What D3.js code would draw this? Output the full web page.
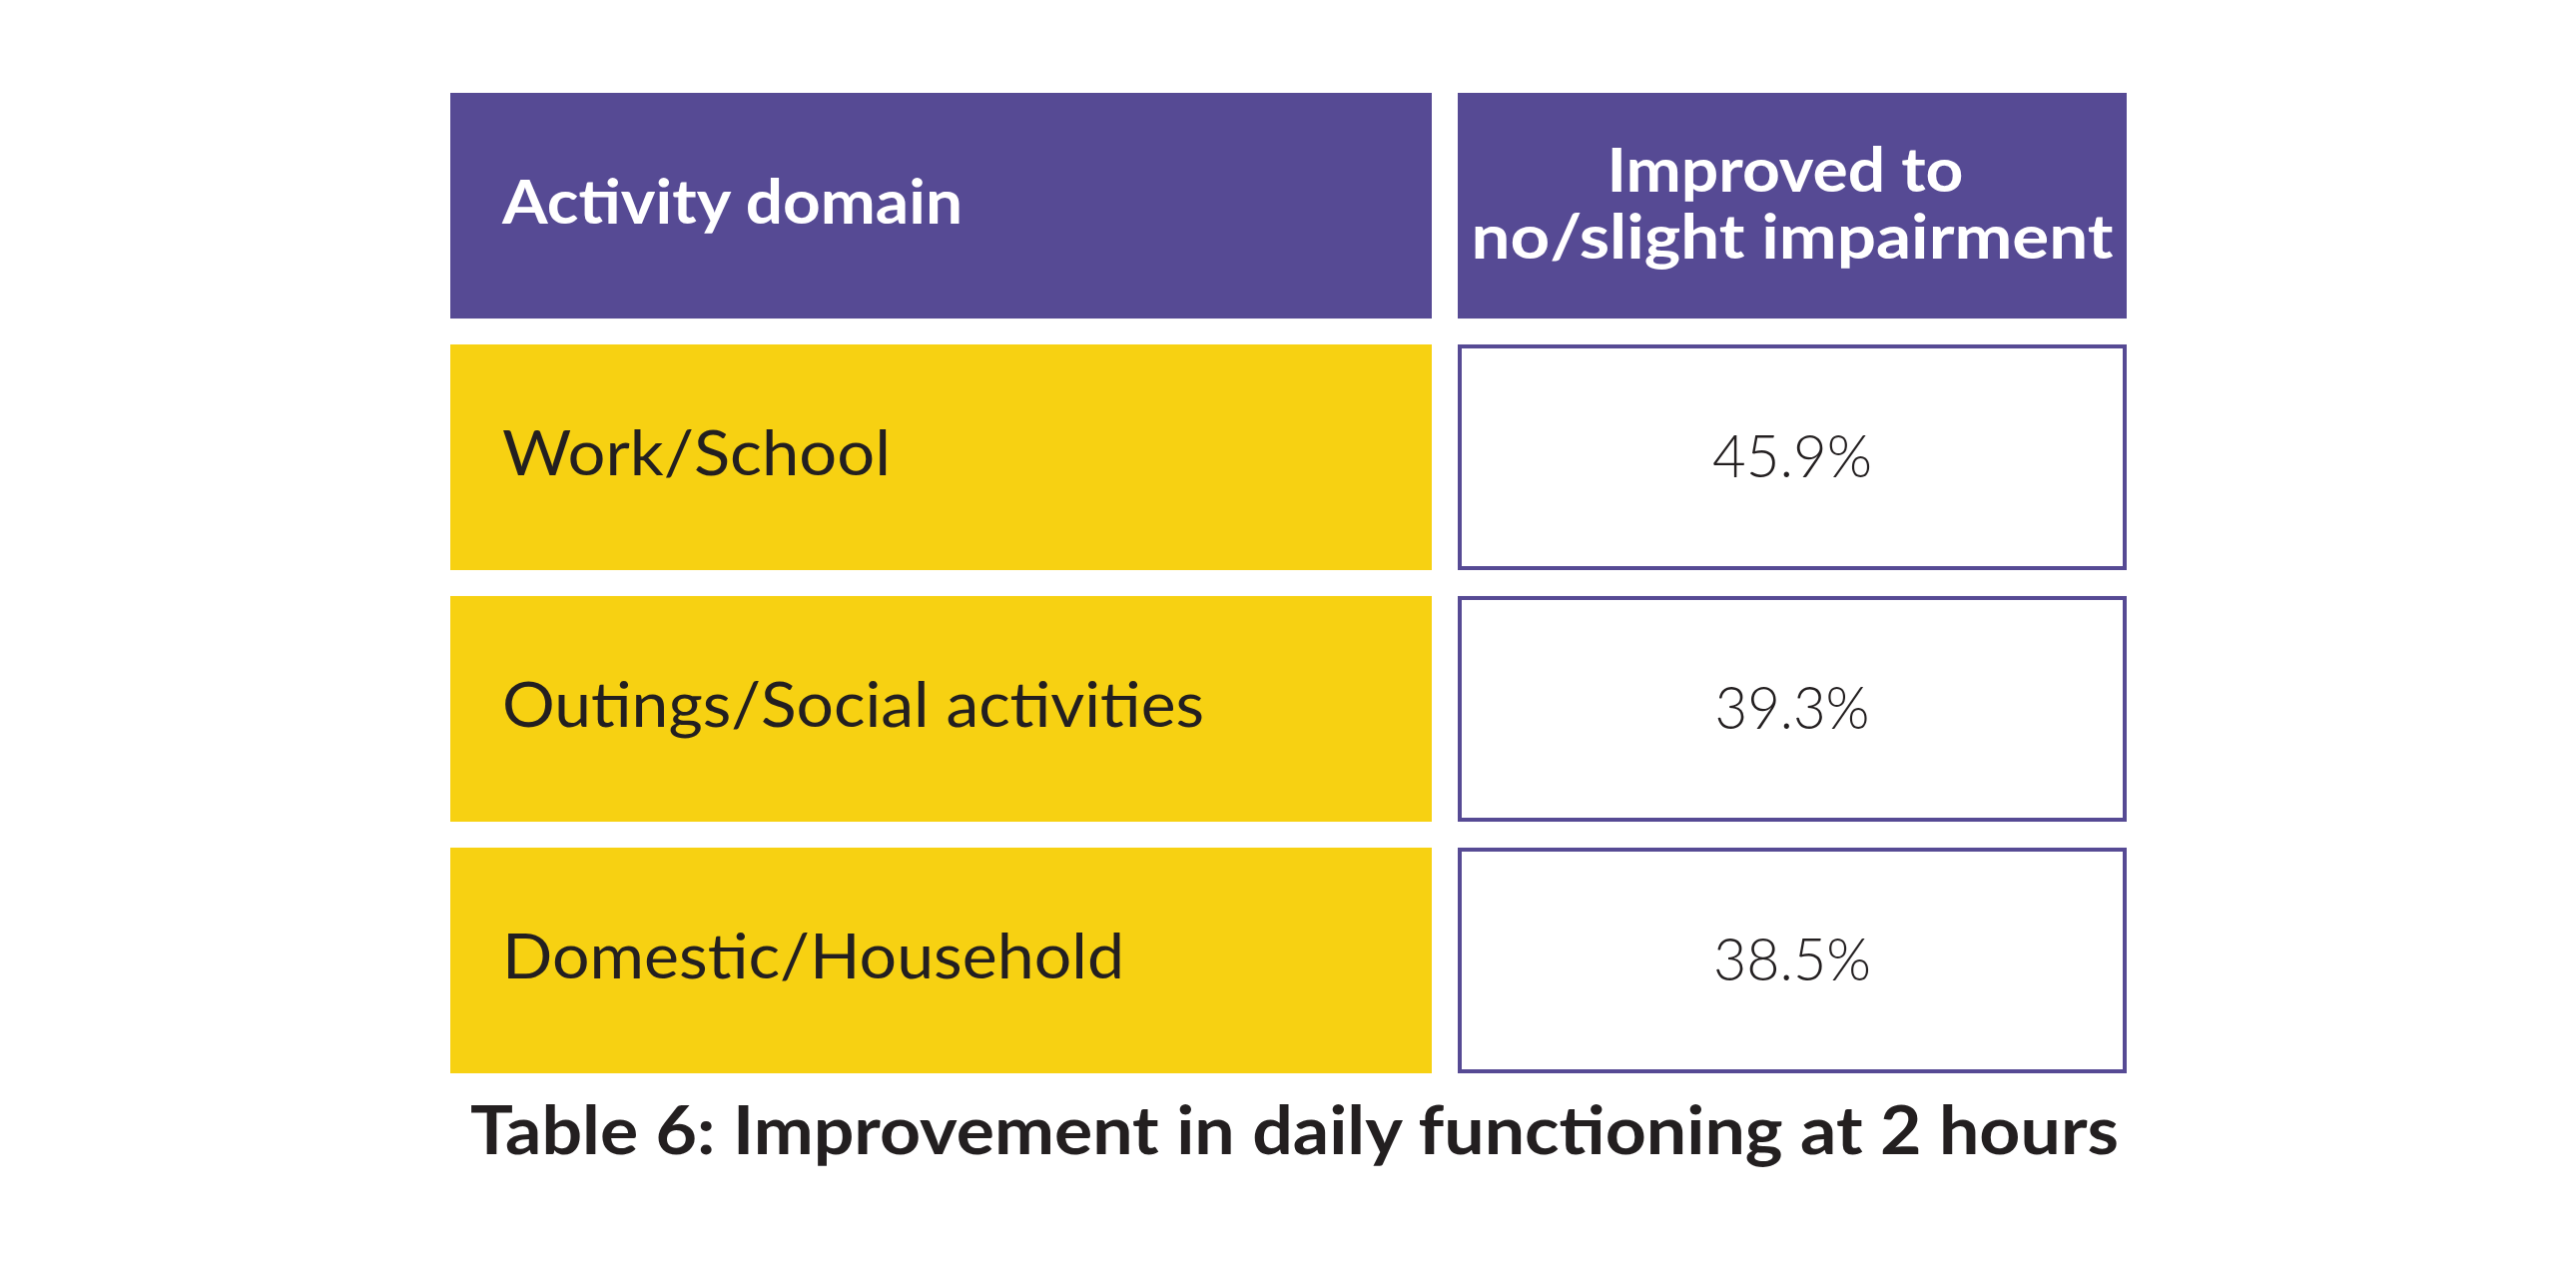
<!DOCTYPE html>
<html>
<head>
<meta charset="utf-8">
<script src="https://cdn.jsdelivr.net/npm/d3@7"></script>
<style>
  html, body { margin: 0; padding: 0; background: #fff; }
  text { font-variant-ligatures: none; font-feature-settings: "liga" 0, "dlig" 0; }
</style>
</head>
<body>
<div id="vis"></div>
<script>

var width = 2580,
    height = 1264;

// table content
var headers = ["Activity domain", ["Improved to", "no/slight impairment"]];
var domains = ["Work/School", "Outings/Social activities", "Domestic/Household"];
var improved = [45.9, 39.3, 38.5];
var caption = "Table 6: Improvement in daily functioning at 2 hours";

var purple = "#564a94",
    yellow = "#f7d112",
    ink = "#231f20";

var svg = d3.select("#vis").append("svg")
    .attr("width", width)
    .attr("height", height)
    .style("display", "block")
    .style("background", "#fff");

// rows: header + one per domain
var y = d3.scaleBand()
    .domain(["header"].concat(domains))
    .range([93, 1075])
    .paddingInner(0.103)
    .paddingOuter(0);

var colLeft = [451, 1434],
    colRight = [1460, 2130];

// header cells
svg.append("rect")
    .attr("x", colLeft[0])
    .attr("y", y("header"))
    .attr("width", colLeft[1] - colLeft[0])
    .attr("height", y.bandwidth())
    .attr("fill", purple);

svg.append("rect")
    .attr("x", colRight[0])
    .attr("y", y("header"))
    .attr("width", colRight[1] - colRight[0])
    .attr("height", y.bandwidth())
    .attr("fill", purple);

svg.append("text")
    .attr("x", 503)
    .attr("y", y("header") + 131)
    .attr("textLength", 461)
    .attr("lengthAdjust", "spacingAndGlyphs")
    .style("font", "700 62px Lato, sans-serif")
    .attr("fill", "#fff")
    .text(headers[0]);

var headLines = [{t: headers[1][0], y: 99, w: 357, x: 1788},
                 {t: headers[1][1], y: 166, w: 643, x: 1795}];

svg.selectAll("text.head2")
    .data(headLines)
    .enter().append("text")
    .attr("class", "head2")
    .attr("x", function(d) { return d.x; })
    .attr("y", function(d) { return y("header") + d.y; })
    .attr("text-anchor", "middle")
    .attr("textLength", function(d) { return d.w; })
    .attr("lengthAdjust", "spacingAndGlyphs")
    .style("font", "700 62px Lato, sans-serif")
    .attr("fill", "#fff")
    .text(function(d) { return d.t; });

// body rows
var rows = domains.map(function(d, i) {
    return {domain: d, value: improved[i]};
});

var domainWidths = [389, 703, 623],
    valueWidths = [160, 155, 158];

var row = svg.selectAll("g.row")
    .data(rows)
    .enter().append("g")
    .attr("class", "row")
    .attr("transform", function(d) { return "translate(0," + y(d.domain) + ")"; });

row.append("rect")
    .attr("x", colLeft[0])
    .attr("width", colLeft[1] - colLeft[0])
    .attr("height", y.bandwidth())
    .attr("fill", yellow);

row.append("rect")
    .attr("x", colRight[0] + 2)
    .attr("y", 2)
    .attr("width", colRight[1] - colRight[0] - 4)
    .attr("height", y.bandwidth() - 4)
    .attr("fill", "#fff")
    .attr("stroke", purple)
    .attr("stroke-width", 4);

row.append("text")
    .attr("x", 503)
    .attr("y", y.bandwidth() / 2 + 18)
    .attr("textLength", function(d, i) { return domainWidths[i]; })
    .attr("lengthAdjust", "spacingAndGlyphs")
    .style("font", "400 62px Lato, sans-serif")
    .attr("fill", ink)
    .text(function(d) { return d.domain; });

row.append("text")
    .attr("x", (colRight[0] + colRight[1]) / 2)
    .attr("y", y.bandwidth() / 2 + 20)
    .attr("text-anchor", "middle")
    .attr("textLength", function(d, i) { return valueWidths[i]; })
    .attr("lengthAdjust", "spacingAndGlyphs")
    .style("font", "300 60px Lato, sans-serif")
    .attr("fill", ink)
    .text(function(d) { return d3.format(".1f")(d.value) + "%"; });

// caption
svg.append("text")
    .attr("x", 471)
    .attr("y", 1156)
    .attr("textLength", 1651)
    .attr("lengthAdjust", "spacingAndGlyphs")
    .style("font", "700 66px Lato, sans-serif")
    .attr("fill", ink)
    .text(caption);

</script>
</body>
</html>
